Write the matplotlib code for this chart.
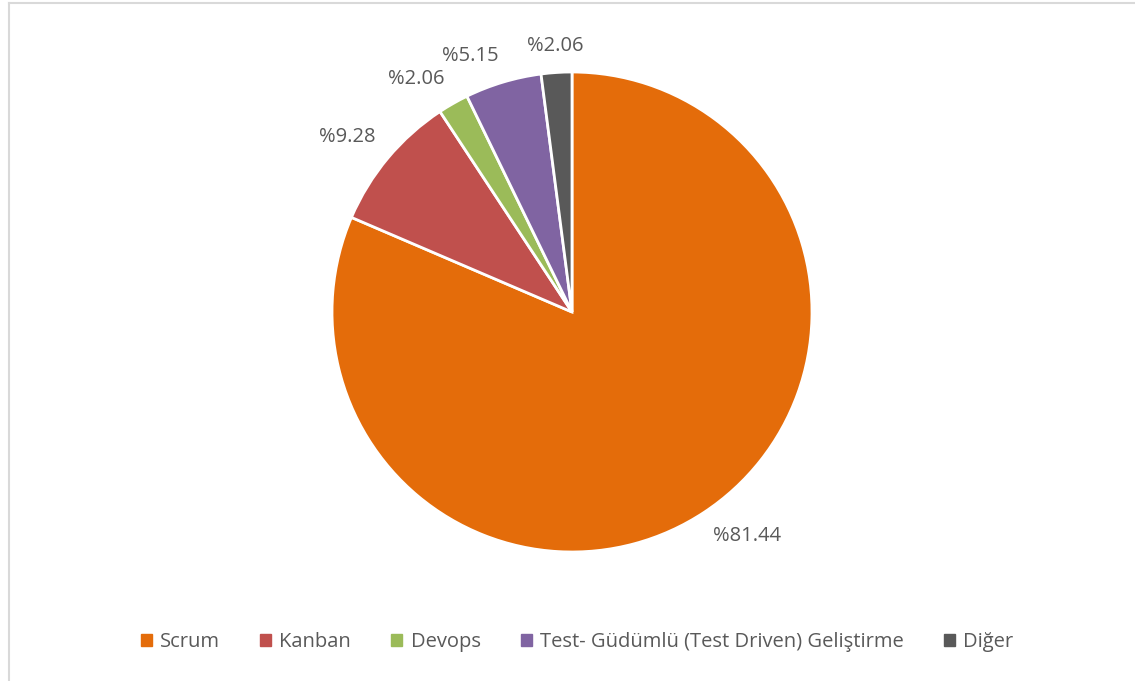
import numpy as np
import matplotlib
matplotlib.use("Agg")
import matplotlib.pyplot as plt
from matplotlib.lines import Line2D

# data
categories = ["Scrum", "Kanban", "Devops", "Test- Güdümlü (Test Driven) Geliştirme", "Diğer"]
shares = [81.44, 9.28, 2.06, 5.15, 2.06]
colors = ["#E46C0A", "#C0504D", "#9BBB59", "#8064A2", "#595959"]

plt.rcParams['font.family'] = ['Open Sans', 'DejaVu Sans']
txt_color = "#595959"

W, H = 1135, 681
fig = plt.figure(figsize=(W / 100, H / 100), dpi=100)

# pie centre ~ (572, 312) px, radius ~240 px
cx, cy, r = 572, 312, 240
ax = fig.add_axes([(cx - r) / W, (H - cy - r) / H, 2 * r / W, 2 * r / H])
wedges, _ = ax.pie(shares, colors=colors, startangle=90, counterclock=False,
                   wedgeprops=dict(edgecolor="white", linewidth=2))
ax.set_xlim(-1, 1)
ax.set_ylim(-1, 1)
ax.set_aspect("equal")
ax.axis("off")

# outside-end labels like Excel
for w, val in zip(wedges, shares):
    ang = np.deg2rad((w.theta1 + w.theta2) / 2)
    c, s = np.cos(ang), np.sin(ang)
    rr = 1.07
    if c > 0.3:
        ha = "left"
    elif c < -0.15:
        ha = "right"
    else:
        ha = "center"
    va = "bottom" if s > 0 else "top"
    ax.text(rr * c, rr * s, "%" + f"{val:.2f}", ha=ha, va=va, fontsize=14.5,
            color=txt_color, clip_on=False)

handles = [plt.Rectangle((0, 0), 1, 1, color=c) for c in colors]
fig.legend(handles, categories, loc="center", bbox_to_anchor=(577 / W, 1 - 642 / H),
           ncol=5, frameon=False, fontsize=14.5, handlelength=0.55, handleheight=0.55,
           handletextpad=0.4, columnspacing=2.0, labelcolor=txt_color)

# light chart-area border (left and top visible)
fig.add_artist(Line2D([8.5 / W, 8.5 / W], [0, 1 - 3 / H], color="#d9d9d9", lw=1.5))
fig.add_artist(Line2D([8.5 / W, 1], [1 - 3 / H, 1 - 3 / H], color="#d9d9d9", lw=1.5))

fig.savefig("out.png", dpi=100, facecolor="white")
